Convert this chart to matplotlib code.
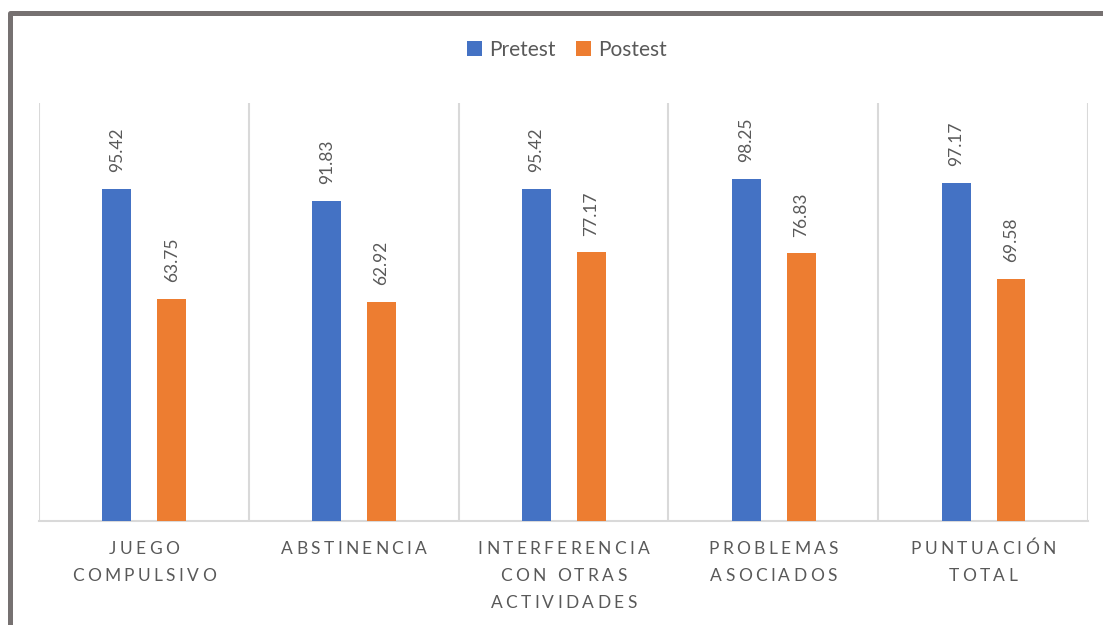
import matplotlib
matplotlib.use("Agg")
import matplotlib.pyplot as plt
from matplotlib.lines import Line2D
from matplotlib.patches import Patch
from matplotlib.textpath import TextToPath
from matplotlib.font_manager import FontProperties
import matplotlib.transforms as mtransforms
import numpy as np

categories = ["JUEGO\nCOMPULSIVO", "ABSTINENCIA", "INTERFERENCIA\nCON OTRAS\nACTIVIDADES",
              "PROBLEMAS\nASOCIADOS", "PUNTUACIÓN\nTOTAL"]
pretest = [95.42, 91.83, 95.42, 98.25, 97.17]
postest = [63.75, 62.92, 77.17, 76.83, 69.58]
series_names = ["Pretest", "Postest"]

BLUE = "#4472C4"
ORANGE = "#ED7D31"
GRID = "#D9D9D9"
TXT = "#595959"
FONT = "Lato"

plt.rcParams['font.family'] = [FONT, 'DejaVu Sans']

W, H = 1103, 625
fig = plt.figure(figsize=(W / 100, H / 100), dpi=100)
fig.patch.set_facecolor("white")

ax = fig.add_axes([39 / W, 1 - 521 / H, (1088 - 39) / W, (521 - 103) / H])
n = len(categories)
x = np.arange(n)
bw = 0.138
b1 = ax.bar(x - 0.129, pretest, width=bw, color=BLUE, zorder=3)
b2 = ax.bar(x + 0.133, postest, width=bw, color=ORANGE, zorder=3)

ax.set_xlim(-0.5, n - 0.5)
ax.set_ylim(0, 120)
for s in ["top", "left", "right"]:
    ax.spines[s].set_visible(False)
ax.spines["bottom"].set_color(GRID)
ax.spines["bottom"].set_linewidth(1.5)
ax.set_yticks([])
ax.set_xticks([])
for b in np.arange(-0.5, n, 1.0):
    ax.axvline(b, color=GRID, lw=1.5, zorder=1)

for bars, vals in ((b1, pretest), (b2, postest)):
    ax.bar_label(bars, labels=[f"{v:.2f}" for v in vals], rotation=90, padding=12,
                 color=TXT, fontsize=12.5, fontfamily=FONT)

# letter-spaced category labels
fs_cat = 12.5
prop = FontProperties(family=FONT, size=fs_cat)
ttp = TextToPath()
spacing = 2.4  # points
line_step = 19.5  # points
trans = mtransforms.blended_transform_factory(ax.transData, fig.transFigure)
y_top = 1 - 541 / H
for i, lab in enumerate(categories):
    for li, line in enumerate(lab.split("\n")):
        widths = [ttp.get_text_width_height_descent(ch, prop, ismath=False)[0] for ch in line]
        total = sum(widths) + spacing * (len(line) - 1)
        pos = -total / 2
        for ch, w in zip(line, widths):
            ax.annotate(ch, xy=(i, y_top), xycoords=trans,
                        xytext=(pos, -li * line_step), textcoords="offset points",
                        ha="left", va="top", fontsize=fs_cat, color=TXT,
                        fontfamily=FONT, annotation_clip=False)
            pos += w + spacing

handles = [Patch(facecolor=BLUE), Patch(facecolor=ORANGE)]
fig.legend(handles, series_names, loc="center", bbox_to_anchor=(567 / W, 1 - 50 / H),
           ncol=2, frameon=False, handlelength=0.72, handleheight=0.72,
           handletextpad=0.35, columnspacing=1.0, fontsize=15,
           labelcolor=TXT)

# outer frame (left and top only visible)
fig.add_artist(Line2D([9.5 / W, 9.5 / W, 1.0], [0.0, 1 - 12.5 / H, 1 - 12.5 / H],
                      transform=fig.transFigure, color="#767171", lw=3.6,
                      solid_joinstyle="round"))

fig.savefig("out.png", dpi=100, facecolor="white")
